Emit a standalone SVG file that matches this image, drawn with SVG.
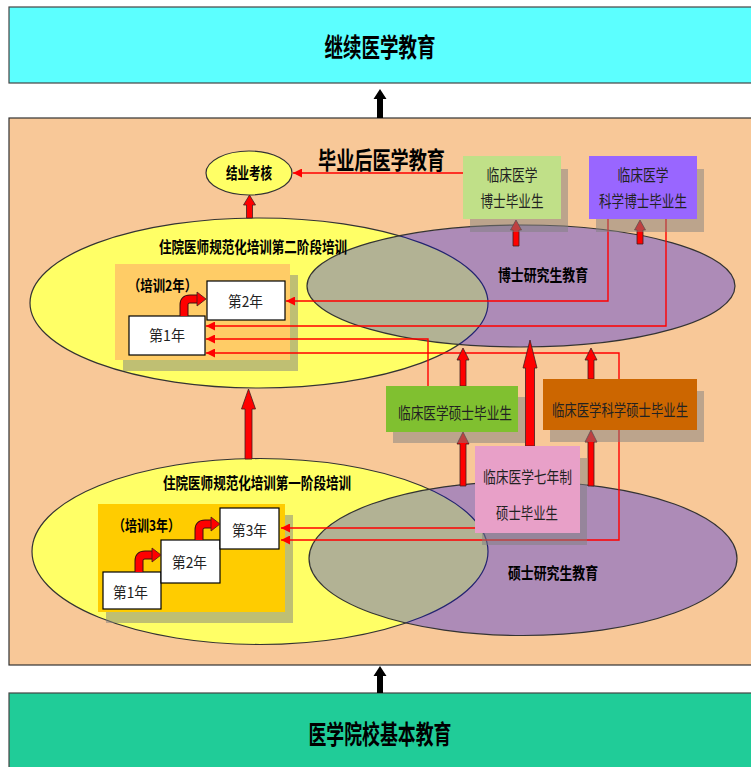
<svg xmlns="http://www.w3.org/2000/svg" width="751" height="767" viewBox="0 0 751 767">
<defs>
<marker id="ah" markerUnits="userSpaceOnUse" markerWidth="9" markerHeight="9" refX="9" refY="4.5" orient="auto"><path d="M0,0 L9,4.5 L0,9 z" fill="#FF0000"/></marker>
</defs>
<style>
text{font-family:"Noto Sans CJK SC","Noto Sans",sans-serif;text-anchor:middle;fill:#000}
.b{font-weight:bold}
.big{font-size:26px;font-weight:bold}
.lbl{font-size:16px;font-weight:bold}
.g{font-size:16px;fill:#222}
.yr{font-size:15px;fill:#222}
.ell{stroke:#333;stroke-width:1.2}
.yel{fill:#FFFF66}
.pur{fill:rgb(0,0,255);fill-opacity:0.3}
.sh{fill:#808080;fill-opacity:0.5}
.yb{fill:#fff;stroke:#000;stroke-width:1.2}
.ra{fill:#FF0000;stroke:#402020;stroke-width:0.8}
.ka{fill:#000}
.rl{fill:none;stroke:#FF0000;stroke-width:1.4}
.cv{fill:none;stroke:#3a1010;stroke-width:9}
.cvi{fill:none;stroke:#FF0000;stroke-width:7}
</style>

<g id="cme">
<rect x="9" y="7" width="750" height="76" fill="#5CFFFF" stroke="#444" stroke-width="1.2"/>
<text class="big" x="380" y="57" textLength="111" lengthAdjust="spacingAndGlyphs">继续医学教育</text>
</g>

<g id="basic">
<rect x="9" y="693" width="750" height="80" fill="#20CC98" stroke="#444" stroke-width="1.2"/>
<text class="big" x="380" y="744" textLength="143" lengthAdjust="spacingAndGlyphs">医学院校基本教育</text>
</g>

<g id="gme">
<rect x="9" y="118" width="750" height="547" fill="#F8C898" stroke="#333" stroke-width="1.2"/>
<text class="b" x="381.5" y="169" font-size="24" textLength="127" lengthAdjust="spacingAndGlyphs">毕业后医学教育</text>
</g>

<g id="stage2">
<ellipse class="ell yel" cx="259" cy="303" rx="229" ry="85"/>
</g>
<g id="stage1">
<ellipse class="ell yel" cx="260" cy="551.5" rx="228" ry="93"/>
</g>
<g id="phd">
<ellipse class="ell pur" cx="521" cy="286" rx="214" ry="61"/>
<text class="lbl" x="543" y="281" textLength="90" lengthAdjust="spacingAndGlyphs">博士研究生教育</text>
</g>
<g id="master">
<ellipse class="ell pur" cx="523" cy="558.5" rx="214" ry="77"/>
<text class="lbl" x="553" y="579" textLength="90" lengthAdjust="spacingAndGlyphs">硕士研究生教育</text>
</g>

<g id="exam">
<ellipse class="ell yel" cx="249" cy="173" rx="43" ry="22"/>
<text class="lbl" x="249" y="179" textLength="46" lengthAdjust="spacingAndGlyphs">结业考核</text>
</g>

<g id="stage2-inner">
<text class="lbl" x="253" y="253" textLength="188" lengthAdjust="spacingAndGlyphs">住院医师规范化培训第二阶段培训</text>
<rect class="sh" x="123" y="275" width="175" height="96"/>
<rect x="115" y="264" width="175" height="96" fill="#FFCC66"/>
<text class="b" x="162.5" y="290.5" font-size="15" textLength="69" lengthAdjust="spacingAndGlyphs">（培训2年）</text>
<rect class="yb" x="207" y="281" width="78" height="39"/>
<text class="yr" x="245.5" y="306.5" textLength="35" lengthAdjust="spacingAndGlyphs">第2年</text>
<rect class="yb" x="129" y="316" width="76" height="39"/>
<text class="yr" x="167" y="340.5" textLength="36" lengthAdjust="spacingAndGlyphs">第1年</text>
<path class="cv" d="M184,316 V305 Q184,299 190,299 H198"/>
<path class="cvi" d="M184,316 V305 Q184,299 190,299 H198"/>
<polygon class="ra" points="197,292 206,299 197,306"/>
</g>

<g id="stage1-inner">
<text class="lbl" x="257" y="489" textLength="188" lengthAdjust="spacingAndGlyphs">住院医师规范化培训第一阶段培训</text>
<rect class="sh" x="106" y="515" width="187" height="108"/>
<rect x="98" y="504" width="187" height="108" fill="#FFCC00"/>
<text class="b" x="146.5" y="530.5" font-size="15" textLength="67" lengthAdjust="spacingAndGlyphs">（培训3年）</text>
<rect class="yb" x="103" y="572" width="58" height="37"/>
<text class="yr" x="130.5" y="597.5" textLength="35" lengthAdjust="spacingAndGlyphs">第1年</text>
<rect class="yb" x="161" y="540" width="59" height="43"/>
<text class="yr" x="189.5" y="567.5" textLength="35" lengthAdjust="spacingAndGlyphs">第2年</text>
<rect class="yb" x="220" y="508" width="59" height="41"/>
<text class="yr" x="249.5" y="535.5" textLength="35" lengthAdjust="spacingAndGlyphs">第3年</text>
<path class="cv" d="M139,572 V561 Q139,555 145,555 H153"/>
<path class="cvi" d="M139,572 V561 Q139,555 145,555 H153"/>
<polygon class="ra" points="152,548 161,555 152,562"/>
<path class="cv" d="M199,540 V530 Q199,524 205,524 H212"/>
<path class="cvi" d="M199,540 V530 Q199,524 205,524 H212"/>
<polygon class="ra" points="211,517 220,524 211,531"/>
</g>

<g id="connectors">
<path class="rl" d="M463,173 H293" marker-end="url(#ah)"/>
<path class="rl" d="M608,219 V301 H286" marker-end="url(#ah)"/>
<path class="rl" d="M666,219 V326 H206" marker-end="url(#ah)"/>
<path class="rl" d="M428,386 V339 H206" marker-end="url(#ah)"/>
<path class="rl" d="M619,379 V353 H206" marker-end="url(#ah)"/>
<path class="rl" d="M619,430 V540 H281" marker-end="url(#ah)"/>
<path class="rl" d="M475,528 H281" marker-end="url(#ah)"/>
<polygon class="ka" points="377,118 377,99 373.5,99 380,89 386.5,99 383,99 383,118"/>
<polygon class="ka" points="377,693 377,676 373.5,676 380,666 386.5,676 383,676 383,693"/>
<polygon class="ra" points="246.5,218 246.5,205 243.5,205 249.5,195 255.5,205 252.5,205 252.5,218"/>
<polygon class="ra" points="245,459 245,409 241.5,409 248.5,389 255.5,409 252,409 252,459"/>
<polygon class="ra" points="513,246 513,230 510.5,230 516,220 521.5,230 519,230 519,246"/>
<polygon class="ra" points="637,244 637,230 634.5,230 640,220 645.5,230 643,230 643,244"/>
<polygon class="ra" points="460,386 460,360 457,360 463,348 469,360 466,360 466,386"/>
<polygon class="ra" points="525.5,446 525.5,368 523,368 530,340 537,368 534.5,368 534.5,446"/>
<polygon class="ra" points="588,379 588,360 585,360 591,348 597,360 594,360 594,379"/>
<polygon class="ra" points="460,486 460,444 457,444 463,432 469,444 466,444 466,486"/>
<polygon class="ra" points="588,486 588,442 585,442 591,430 597,442 594,442 594,486"/>
</g>

<g id="phd-clinical">
<rect class="sh" x="470" y="169" width="98" height="63"/>
<rect x="463" y="156" width="98" height="63" fill="#C0E088"/>
<text class="g" x="512" y="181" textLength="51" lengthAdjust="spacingAndGlyphs">临床医学</text>
<text class="g" x="512" y="207" textLength="63" lengthAdjust="spacingAndGlyphs">博士毕业生</text>
</g>
<g id="phd-science">
<rect class="sh" x="596" y="169" width="108" height="63"/>
<rect x="589" y="156" width="108" height="63" fill="#9966FF"/>
<text class="g" x="643" y="181" textLength="51" lengthAdjust="spacingAndGlyphs">临床医学</text>
<text class="g" x="643" y="207" textLength="88" lengthAdjust="spacingAndGlyphs">科学博士毕业生</text>
</g>
<g id="master-clinical">
<rect class="sh" x="393" y="397" width="132" height="46"/>
<rect x="386" y="386" width="132" height="46" fill="#80C030"/>
<text class="g" x="455" y="419" textLength="114" lengthAdjust="spacingAndGlyphs">临床医学硕士毕业生</text>
</g>
<g id="master-science">
<rect class="sh" x="550" y="391" width="154" height="51"/>
<rect x="543" y="379" width="154" height="51" fill="#CC6600"/>
<text class="g" x="620" y="416" textLength="136" lengthAdjust="spacingAndGlyphs">临床医学科学硕士毕业生</text>
</g>
<g id="seven-year">
<rect class="sh" x="482" y="458" width="105" height="87"/>
<rect x="475" y="446" width="105" height="87" fill="#E8A0C8"/>
<text class="g" x="527.5" y="483" textLength="89" lengthAdjust="spacingAndGlyphs">临床医学七年制</text>
<text class="g" x="527" y="519" textLength="62" lengthAdjust="spacingAndGlyphs">硕士毕业生</text>
</g>
</svg>
